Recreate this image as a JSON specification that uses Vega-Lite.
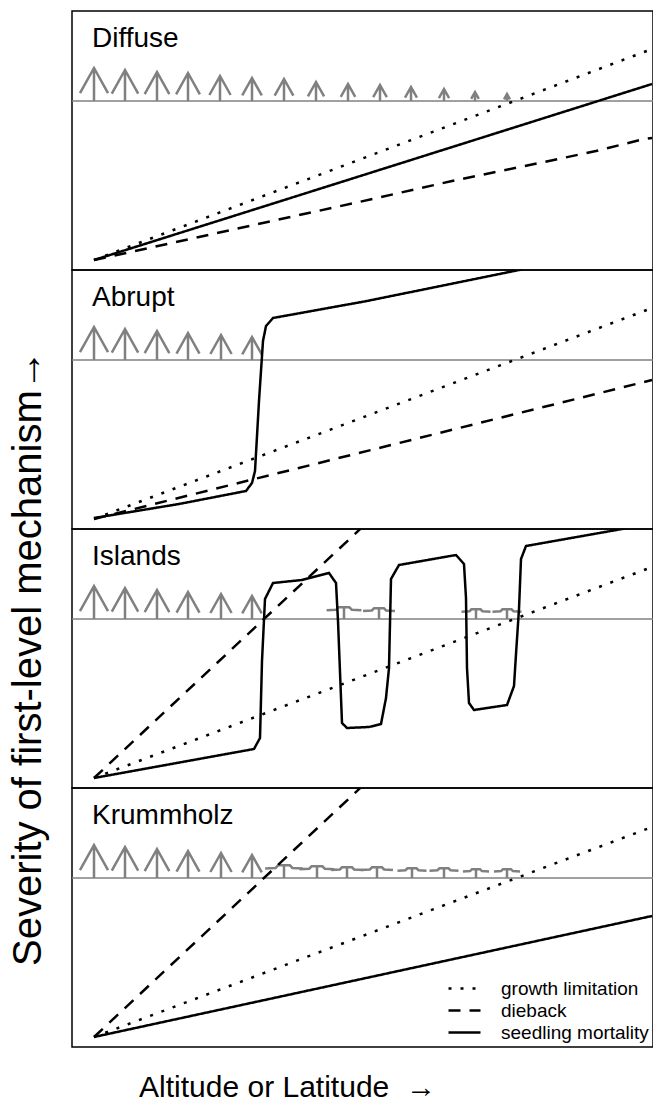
{
  "$schema": "https://vega.github.io/schema/vega-lite/v6.json",
  "autosize": {"type": "pad"},
  "padding": {"left": 8, "top": 10, "right": 0, "bottom": 0},
  "spacing": 0,
  "bounds": "flush",
  "title": {"text": "Severity of first-level mechanism→", "orient": "left", "anchor": "middle", "fontSize": 40, "font": "Liberation Sans", "fontWeight": "normal", "color": "#000", "offset": 22, "dx": -102},
  "data": {"values": [
    {"panel": "Diffuse", "kind": "base", "y": 169},
    {"panel": "Abrupt", "kind": "base", "y": 169},
    {"panel": "Islands", "kind": "base", "y": 169},
    {"panel": "Krummholz", "kind": "base", "y": 169},

    {"panel": "Diffuse", "kind": "title", "x": 20, "y": 223.5, "label": "Diffuse"},
    {"panel": "Abrupt", "kind": "title", "x": 20, "y": 223.5, "label": "Abrupt"},
    {"panel": "Islands", "kind": "title", "x": 20, "y": 223.5, "label": "Islands"},
    {"panel": "Krummholz", "kind": "title", "x": 20, "y": 223.5, "label": "Krummholz"},

    {"panel": "Diffuse", "kind": "tree", "form": "tree", "x": 22, "y": 169, "h": 33},
    {"panel": "Diffuse", "kind": "tree", "form": "tree", "x": 53, "y": 169, "h": 31},
    {"panel": "Diffuse", "kind": "tree", "form": "tree", "x": 85, "y": 169, "h": 29},
    {"panel": "Diffuse", "kind": "tree", "form": "tree", "x": 116, "y": 169, "h": 28},
    {"panel": "Diffuse", "kind": "tree", "form": "tree", "x": 148, "y": 169, "h": 25},
    {"panel": "Diffuse", "kind": "tree", "form": "tree", "x": 180, "y": 169, "h": 23},
    {"panel": "Diffuse", "kind": "tree", "form": "tree", "x": 212, "y": 169, "h": 22},
    {"panel": "Diffuse", "kind": "tree", "form": "tree", "x": 244, "y": 169, "h": 19},
    {"panel": "Diffuse", "kind": "tree", "form": "tree", "x": 276, "y": 169, "h": 17},
    {"panel": "Diffuse", "kind": "tree", "form": "tree", "x": 308, "y": 169, "h": 16},
    {"panel": "Diffuse", "kind": "tree", "form": "tree", "x": 339, "y": 169, "h": 14},
    {"panel": "Diffuse", "kind": "tree", "form": "tree", "x": 372, "y": 169, "h": 12},
    {"panel": "Diffuse", "kind": "tree", "form": "tree", "x": 403, "y": 169, "h": 9},
    {"panel": "Diffuse", "kind": "tree", "form": "tree", "x": 435, "y": 169, "h": 7},

    {"panel": "Abrupt", "kind": "tree", "form": "tree", "x": 22, "y": 169, "h": 33},
    {"panel": "Abrupt", "kind": "tree", "form": "tree", "x": 53, "y": 169, "h": 31},
    {"panel": "Abrupt", "kind": "tree", "form": "tree", "x": 85, "y": 169, "h": 29},
    {"panel": "Abrupt", "kind": "tree", "form": "tree", "x": 116, "y": 169, "h": 27},
    {"panel": "Abrupt", "kind": "tree", "form": "tree", "x": 149, "y": 169, "h": 25},
    {"panel": "Abrupt", "kind": "tree", "form": "tree", "x": 180, "y": 169, "h": 23},

    {"panel": "Islands", "kind": "tree", "form": "tree", "x": 22, "y": 169, "h": 33},
    {"panel": "Islands", "kind": "tree", "form": "tree", "x": 53, "y": 169, "h": 31},
    {"panel": "Islands", "kind": "tree", "form": "tree", "x": 85, "y": 169, "h": 29},
    {"panel": "Islands", "kind": "tree", "form": "tree", "x": 116, "y": 169, "h": 27},
    {"panel": "Islands", "kind": "tree", "form": "tree", "x": 149, "y": 169, "h": 25},
    {"panel": "Islands", "kind": "tree", "form": "tree", "x": 180, "y": 169, "h": 23},
    {"panel": "Islands", "kind": "tree", "form": "krummholz", "x": 272, "y": 169, "h": 12},
    {"panel": "Islands", "kind": "tree", "form": "krummholz", "x": 307, "y": 169, "h": 11},
    {"panel": "Islands", "kind": "tree", "form": "krummholz", "x": 404, "y": 169, "h": 10},
    {"panel": "Islands", "kind": "tree", "form": "krummholz", "x": 435, "y": 169, "h": 10},

    {"panel": "Krummholz", "kind": "tree", "form": "tree", "x": 22, "y": 169, "h": 33},
    {"panel": "Krummholz", "kind": "tree", "form": "tree", "x": 53, "y": 169, "h": 31},
    {"panel": "Krummholz", "kind": "tree", "form": "tree", "x": 85, "y": 169, "h": 29},
    {"panel": "Krummholz", "kind": "tree", "form": "tree", "x": 116, "y": 169, "h": 27},
    {"panel": "Krummholz", "kind": "tree", "form": "tree", "x": 149, "y": 169, "h": 25},
    {"panel": "Krummholz", "kind": "tree", "form": "tree", "x": 180, "y": 169, "h": 23},
    {"panel": "Krummholz", "kind": "tree", "form": "krummholz", "x": 212, "y": 169, "h": 13},
    {"panel": "Krummholz", "kind": "tree", "form": "krummholz", "x": 245, "y": 169, "h": 12},
    {"panel": "Krummholz", "kind": "tree", "form": "krummholz", "x": 275, "y": 169, "h": 11},
    {"panel": "Krummholz", "kind": "tree", "form": "krummholz", "x": 305, "y": 169, "h": 11},
    {"panel": "Krummholz", "kind": "tree", "form": "krummholz", "x": 340, "y": 169, "h": 10},
    {"panel": "Krummholz", "kind": "tree", "form": "krummholz", "x": 372, "y": 169, "h": 10},
    {"panel": "Krummholz", "kind": "tree", "form": "krummholz", "x": 404, "y": 169, "h": 9},
    {"panel": "Krummholz", "kind": "tree", "form": "krummholz", "x": 435, "y": 169, "h": 9},

    {"panel": "Diffuse", "kind": "line", "series": "growth limitation", "x": 22, "y": 10},
    {"panel": "Diffuse", "kind": "line", "series": "growth limitation", "x": 580, "y": 221},
    {"panel": "Diffuse", "kind": "line", "series": "seedling mortality", "x": 22, "y": 10},
    {"panel": "Diffuse", "kind": "line", "series": "seedling mortality", "x": 580, "y": 186},
    {"panel": "Diffuse", "kind": "line", "series": "dieback", "x": 22, "y": 10},
    {"panel": "Diffuse", "kind": "line", "series": "dieback", "x": 127, "y": 33},
    {"panel": "Diffuse", "kind": "line", "series": "dieback", "x": 287, "y": 68},
    {"panel": "Diffuse", "kind": "line", "series": "dieback", "x": 380, "y": 89},
    {"panel": "Diffuse", "kind": "line", "series": "dieback", "x": 477, "y": 109},
    {"panel": "Diffuse", "kind": "line", "series": "dieback", "x": 524, "y": 119},
    {"panel": "Diffuse", "kind": "line", "series": "dieback", "x": 572, "y": 131},
    {"panel": "Diffuse", "kind": "line", "series": "dieback", "x": 580, "y": 132},

    {"panel": "Abrupt", "kind": "line", "series": "growth limitation", "x": 22, "y": 10},
    {"panel": "Abrupt", "kind": "line", "series": "growth limitation", "x": 580, "y": 221},
    {"panel": "Abrupt", "kind": "line", "series": "dieback", "x": 22, "y": 10},
    {"panel": "Abrupt", "kind": "line", "series": "dieback", "x": 580, "y": 149},
    {"panel": "Abrupt", "kind": "line", "series": "seedling mortality", "x": 22, "y": 11},
    {"panel": "Abrupt", "kind": "line", "series": "seedling mortality", "x": 107, "y": 25},
    {"panel": "Abrupt", "kind": "line", "series": "seedling mortality", "x": 174, "y": 38},
    {"panel": "Abrupt", "kind": "line", "series": "seedling mortality", "x": 180, "y": 46},
    {"panel": "Abrupt", "kind": "line", "series": "seedling mortality", "x": 183, "y": 58},
    {"panel": "Abrupt", "kind": "line", "series": "seedling mortality", "x": 187, "y": 128},
    {"panel": "Abrupt", "kind": "line", "series": "seedling mortality", "x": 191, "y": 188},
    {"panel": "Abrupt", "kind": "line", "series": "seedling mortality", "x": 194, "y": 203},
    {"panel": "Abrupt", "kind": "line", "series": "seedling mortality", "x": 201, "y": 211},
    {"panel": "Abrupt", "kind": "line", "series": "seedling mortality", "x": 295, "y": 228},
    {"panel": "Abrupt", "kind": "line", "series": "seedling mortality", "x": 447, "y": 259},
    {"panel": "Abrupt", "kind": "line", "series": "seedling mortality", "x": 580, "y": 285},

    {"panel": "Islands", "kind": "line", "series": "growth limitation", "x": 22, "y": 10},
    {"panel": "Islands", "kind": "line", "series": "growth limitation", "x": 580, "y": 221},
    {"panel": "Islands", "kind": "line", "series": "dieback", "x": 22, "y": 10},
    {"panel": "Islands", "kind": "line", "series": "dieback", "x": 300, "y": 270},
    {"panel": "Islands", "kind": "line", "series": "seedling mortality", "x": 22, "y": 10},
    {"panel": "Islands", "kind": "line", "series": "seedling mortality", "x": 182, "y": 39},
    {"panel": "Islands", "kind": "line", "series": "seedling mortality", "x": 188, "y": 50},
    {"panel": "Islands", "kind": "line", "series": "seedling mortality", "x": 190, "y": 127},
    {"panel": "Islands", "kind": "line", "series": "seedling mortality", "x": 193, "y": 189},
    {"panel": "Islands", "kind": "line", "series": "seedling mortality", "x": 201, "y": 205},
    {"panel": "Islands", "kind": "line", "series": "seedling mortality", "x": 230, "y": 208},
    {"panel": "Islands", "kind": "line", "series": "seedling mortality", "x": 257, "y": 215},
    {"panel": "Islands", "kind": "line", "series": "seedling mortality", "x": 264, "y": 205},
    {"panel": "Islands", "kind": "line", "series": "seedling mortality", "x": 266, "y": 167},
    {"panel": "Islands", "kind": "line", "series": "seedling mortality", "x": 270, "y": 65},
    {"panel": "Islands", "kind": "line", "series": "seedling mortality", "x": 275, "y": 60},
    {"panel": "Islands", "kind": "line", "series": "seedling mortality", "x": 297, "y": 61},
    {"panel": "Islands", "kind": "line", "series": "seedling mortality", "x": 309, "y": 64},
    {"panel": "Islands", "kind": "line", "series": "seedling mortality", "x": 314, "y": 90},
    {"panel": "Islands", "kind": "line", "series": "seedling mortality", "x": 317, "y": 120},
    {"panel": "Islands", "kind": "line", "series": "seedling mortality", "x": 319, "y": 209},
    {"panel": "Islands", "kind": "line", "series": "seedling mortality", "x": 327, "y": 223},
    {"panel": "Islands", "kind": "line", "series": "seedling mortality", "x": 384, "y": 233},
    {"panel": "Islands", "kind": "line", "series": "seedling mortality", "x": 392, "y": 224},
    {"panel": "Islands", "kind": "line", "series": "seedling mortality", "x": 394, "y": 190},
    {"panel": "Islands", "kind": "line", "series": "seedling mortality", "x": 395, "y": 120},
    {"panel": "Islands", "kind": "line", "series": "seedling mortality", "x": 397, "y": 85},
    {"panel": "Islands", "kind": "line", "series": "seedling mortality", "x": 402, "y": 78},
    {"panel": "Islands", "kind": "line", "series": "seedling mortality", "x": 435, "y": 83},
    {"panel": "Islands", "kind": "line", "series": "seedling mortality", "x": 442, "y": 102},
    {"panel": "Islands", "kind": "line", "series": "seedling mortality", "x": 444, "y": 134},
    {"panel": "Islands", "kind": "line", "series": "seedling mortality", "x": 447, "y": 179},
    {"panel": "Islands", "kind": "line", "series": "seedling mortality", "x": 449, "y": 229},
    {"panel": "Islands", "kind": "line", "series": "seedling mortality", "x": 454, "y": 242},
    {"panel": "Islands", "kind": "line", "series": "seedling mortality", "x": 550, "y": 259},
    {"panel": "Islands", "kind": "line", "series": "seedling mortality", "x": 580, "y": 265},

    {"panel": "Krummholz", "kind": "line", "series": "growth limitation", "x": 22, "y": 10},
    {"panel": "Krummholz", "kind": "line", "series": "growth limitation", "x": 580, "y": 220},
    {"panel": "Krummholz", "kind": "line", "series": "dieback", "x": 22, "y": 10},
    {"panel": "Krummholz", "kind": "line", "series": "dieback", "x": 300, "y": 270},
    {"panel": "Krummholz", "kind": "line", "series": "seedling mortality", "x": 22, "y": 10},
    {"panel": "Krummholz", "kind": "line", "series": "seedling mortality", "x": 580, "y": 131}
  ]},
  "facet": {
    "row": {
      "field": "panel",
      "type": "nominal",
      "sort": ["Diffuse", "Abrupt", "Islands", "Krummholz"],
      "header": {"labels": false, "title": null, "labelPadding": 0, "titlePadding": 0}
    }
  },
  "spec": {
    "width": 581,
    "height": 259,
    "encoding": {
      "x": {"field": "x", "type": "quantitative", "scale": {"domain": [0, 581], "nice": false, "zero": false},
        "axis": {"title": "Altitude or Latitude \u00a0→", "labels": false, "ticks": false, "domain": false, "grid": false,
          "titleFontSize": 30, "titleFont": "Liberation Sans", "titleFontWeight": "normal", "titleColor": "#000",
          "titlePadding": 25, "titleX": 215, "titleAlign": "center"}},
      "y": {"field": "y", "type": "quantitative", "scale": {"domain": [0, 259], "nice": false, "zero": false}, "axis": null}
    },
    "layer": [
      {
        "transform": [{"filter": "datum.kind === 'base'"}],
        "mark": {"type": "rule", "color": "#808080", "strokeWidth": 1.5},
        "encoding": {"x": null}
      },
      {
        "transform": [{"filter": "datum.kind === 'tree'"}],
        "mark": {"type": "point", "filled": false, "stroke": "#808080", "strokeWidth": 2.5, "opacity": 1, "strokeJoin": "miter"},
        "encoding": {
          "size": {"field": "h", "type": "quantitative", "scale": {"type": "pow", "exponent": 2, "domain": [0, 40], "range": [0, 1600]}, "legend": null},
          "shape": {"field": "form", "type": "nominal", "scale": {"domain": ["tree", "krummholz"], "range": ["M0,0L0,-2M-0.85,-0.48L0,-2L0.85,-0.48", "M0,0L0,-2M-2.9,-1.45L-1.3,-1.55L-0.9,-1.95L0.9,-1.95L1.3,-1.55L2.9,-1.45"]}, "legend": null}
        }
      },
      {
        "transform": [{"filter": "datum.kind === 'line'"}],
        "mark": {"type": "line", "color": "#000", "strokeWidth": 2.5, "clip": true},
        "encoding": {
          "strokeDash": {"field": "series", "type": "nominal",
            "scale": {"domain": ["growth limitation", "dieback", "seedling mortality"], "range": [[3, 9], [12, 9], [1, 0]]},
            "legend": {"orient": "none", "legendX": 381, "legendY": 966, "title": null, "symbolType": "M-1.6,0L1.6,0", "symbolSize": 400,
              "symbolStrokeWidth": 2.5, "symbolStrokeColor": "#000", "symbolFillColor": "transparent", "labelFontSize": 19, "labelFont": "Liberation Sans",
              "labelColor": "#000", "labelOffset": 25, "rowPadding": 0, "padding": 0, "labelLimit": 300}
          }
        }
      },
      {
        "transform": [{"filter": "datum.kind === 'title'"}],
        "mark": {"type": "text", "align": "left", "baseline": "alphabetic", "fontSize": 28, "font": "Liberation Sans", "color": "#000"},
        "encoding": {"text": {"field": "label"}}
      }
    ]
  },
  "config": {
    "view": {"stroke": "#000", "strokeWidth": 1.5},
    "font": "Liberation Sans"
  }
}
